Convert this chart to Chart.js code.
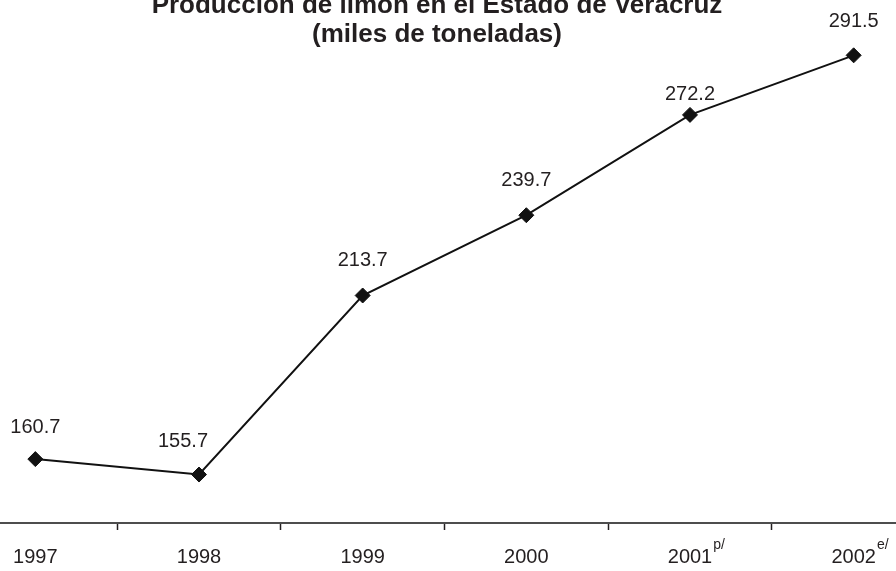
<!DOCTYPE html>
<html lang="es">
<head>
<meta charset="utf-8">
<title>Producción de limón en el Estado de Veracruz</title>
<script src="https://cdn.jsdelivr.net/npm/chart.js@4.4.0/dist/chart.umd.min.js"></script>
<style>
  html, body { margin: 0; padding: 0; background: #fff; }
  body { width: 896px; height: 571px; position: relative; overflow: hidden; }
  #graficoLimon { position: absolute; left: -70px; top: -10px; }
</style>
</head>
<body>
<canvas id="graficoLimon" width="1014" height="594"></canvas>
<script>
// Datos
const anios = ['1997', '1998', '1999', '2000', '2001', '2002'];
const notasAnio = ['', '', '', '', 'p/', 'e/'];   // p/ preliminar, e/ estimado
const produccion = [160.7, 155.7, 213.7, 239.7, 272.2, 291.5];
const titulo = ['Producción de limón en el Estado de Veracruz', '(miles de toneladas)'];

const fuente = '"Liberation Sans", Arial, Helvetica, sans-serif';
const colorTexto = '#231f20';

// Desplazamiento de cada etiqueta de valor respecto a su punto
const desplazamientos = [[0, -32], [-16, -33], [0, -35], [0, -35], [0, -20], [0, -34]];

// Plugin: título en dos líneas, centrado en el lienzo (el original está algo corrido a la izquierda)
const tituloCentrado = {
    id: 'tituloCentrado',
    afterDraw(chart) {
        const ctx = chart.ctx;
        ctx.save();
        ctx.font = 'bold 26px ' + fuente;
        ctx.fillStyle = colorTexto;
        ctx.textAlign = 'center';
        ctx.textBaseline = 'alphabetic';
        titulo.forEach((linea, i) => {
            ctx.fillText(linea, chart.width / 2, 23 + i * 29);
        });
        ctx.restore();
    }
};

// Plugin: escribe el valor encima de cada punto
const etiquetasValores = {
    id: 'etiquetasValores',
    afterDatasetsDraw(chart) {
        const ctx = chart.ctx;
        const meta = chart.getDatasetMeta(0);
        ctx.save();
        ctx.font = '20px ' + fuente;
        ctx.fillStyle = colorTexto;
        ctx.textAlign = 'center';
        ctx.textBaseline = 'middle';
        meta.data.forEach((punto, i) => {
            const [dx, dy] = desplazamientos[i];
            ctx.fillText(produccion[i].toFixed(1), punto.x + dx, punto.y + dy);
        });
        ctx.restore();
    }
};

// Plugin: superíndices p/ y e/ junto a los años
const superindices = {
    id: 'superindices',
    afterDraw(chart) {
        const ctx = chart.ctx;
        const escalaX = chart.scales.x;
        ctx.save();
        const yEtiqueta = escalaX.top + 7 + 15 + 12;
        notasAnio.forEach((nota, i) => {
            if (!nota) return;
            ctx.font = '20px ' + fuente;
            const ancho = ctx.measureText(anios[i]).width;
            const x = escalaX.getPixelForValue(i) + ancho / 2 + 1;
            ctx.font = '14px ' + fuente;
            ctx.fillStyle = colorTexto;
            ctx.textAlign = 'left';
            ctx.textBaseline = 'middle';
            ctx.fillText(nota, x, yEtiqueta - 12);
        });
        ctx.restore();
    }
};

function mostrarGraficoLimon() {
    const ctx = document.getElementById('graficoLimon').getContext('2d');
    new Chart(ctx, {
        type: 'line',
        data: {
            labels: anios,
            datasets: [{
                label: 'Producción (miles de toneladas)',
                data: produccion,
                borderColor: '#111111',
                borderWidth: 2,
                backgroundColor: '#111111',
                pointStyle: 'rectRot',
                pointRadius: 7.5,
                pointBorderWidth: 1,
                pointBorderColor: '#111111',
                tension: 0,
                clip: false
            }]
        },
        options: {
            responsive: false,
            animation: false,
            layout: { padding: { left: 23.5, right: 0.5, top: 57.6, bottom: 0 } },
            plugins: {
                legend: { display: false },
                tooltip: { enabled: false },
                title: { display: false }
            },
            scales: {
                x: {
                    offset: true,
                    grid: {
                        offset: true,
                        drawOnChartArea: false,
                        drawTicks: true,
                        tickLength: 7,
                        tickColor: '#231f20',
                        tickWidth: 1.5
                    },
                    border: { display: true, color: '#4d4d4d', width: 2 },
                    ticks: {
                        color: colorTexto,
                        font: { family: fuente, size: 20 },
                        padding: 15,
                        autoSkip: false,
                        maxRotation: 0
                    }
                },
                y: {
                    display: false,
                    min: 140,
                    max: 294
                }
            }
        },
        plugins: [etiquetasValores, superindices, tituloCentrado]
    });
}

document.addEventListener('DOMContentLoaded', mostrarGraficoLimon);
</script>
</body>
</html>
